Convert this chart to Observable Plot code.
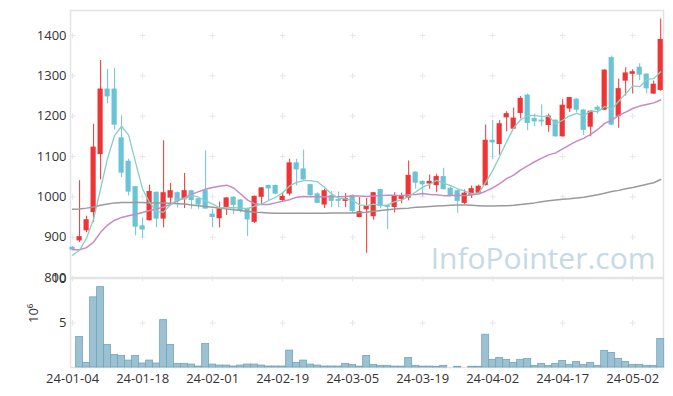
<!DOCTYPE html>
<html><head><meta charset="utf-8">
<script src="https://cdn.jsdelivr.net/npm/d3@7"></script>
<script src="https://cdn.jsdelivr.net/npm/@observablehq/plot@0.6"></script>
<style>
body{margin:0;background:#fff;}
#chart{width:673px;}
#chart svg{display:block;overflow:visible;background:transparent;}
</style></head><body><div id="chart"></div>
<script>
const dates = ["24-01-04","24-01-05","24-01-08","24-01-09","24-01-10","24-01-11","24-01-12","24-01-15","24-01-16","24-01-17",
"24-01-18","24-01-19","24-01-22","24-01-23","24-01-24","24-01-25","24-01-26","24-01-29","24-01-30","24-01-31",
"24-02-01","24-02-02","24-02-05","24-02-06","24-02-07","24-02-08","24-02-13","24-02-14","24-02-15","24-02-16",
"24-02-19","24-02-20","24-02-21","24-02-22","24-02-23","24-02-26","24-02-27","24-02-28","24-02-29","24-03-04",
"24-03-05","24-03-06","24-03-07","24-03-08","24-03-11","24-03-12","24-03-13","24-03-14","24-03-15","24-03-18",
"24-03-19","24-03-20","24-03-21","24-03-22","24-03-25","24-03-26","24-03-27","24-03-28","24-03-29","24-04-01",
"24-04-02","24-04-03","24-04-04","24-04-05","24-04-08","24-04-09","24-04-11","24-04-12","24-04-15","24-04-16",
"24-04-17","24-04-18","24-04-19","24-04-22","24-04-23","24-04-24","24-04-25","24-04-26","24-04-29","24-04-30",
"24-05-02","24-05-03","24-05-07","24-05-08","24-05-09"];
const open = [874,892,917,962,1106,1266,1266,1145,1087,1024,927,942,1010,946,998,1009,994,1014,994,1014,
956,947,975,998,991,970,938,1000,1027,1027,992,1008,1083,1068,1029,1006,981,1002,992,990,
1002,950,969,952,1017,977,975,995,998,1060,1037,1033,1029,1049,1020,1014,985,1004,1010,1029,
1139,1131,1197,1169,1208,1251,1193,1189,1178,1189,1150,1219,1241,1214,1174,1221,1216,1344,1200,1288,
1305,1320,1303,1256,1265];
const high = [876,1040,952,1180,1338,1316,1318,1201,1093,1025,948,1029,1012,1139,1033,1012,1058,1016,996,1114,
969,987,998,1000,993,972,1002,1023,1029,1029,1010,1093,1093,1116,1031,1010,1019,1013,1012,1008,
1004,998,996,1011,1019,979,1010,1009,1089,1062,1040,1054,1056,1071,1024,1017,1017,1027,1029,1178,
1189,1189,1211,1220,1249,1255,1205,1228,1205,1190,1241,1246,1243,1216,1213,1226,1315,1349,1292,1320,
1315,1330,1305,1287,1441];
const low = [868,887,911,937,1042,1231,1166,1048,1002,903,898,940,923,923,981,972,971,969,969,969,
923,923,954,956,960,902,934,980,991,1005,988,1002,1027,1041,998,983,971,973,973,973,
959,948,860,942,970,919,960,983,990,1019,1000,1019,1010,1017,1002,959,980,996,1006,1027,
1093,1103,1161,1167,1193,1164,1174,1174,1160,1148,1148,1209,1208,1152,1149,1205,1214,1176,1170,1250,
1255,1288,1255,1254,1262];
const close = [869,900,942,1122,1266,1249,1179,1060,1013,926,919,1012,946,1009,1014,992,1014,992,981,971,
950,969,996,980,967,944,1000,1021,1021,1008,1000,1083,1068,1043,1004,985,1014,990,990,995,
965,962,977,1009,977,975,1000,1000,1052,1035,1031,1037,1049,1019,1004,990,1008,1019,1025,1139,
1135,1180,1205,1194,1243,1183,1187,1187,1199,1150,1226,1245,1216,1166,1211,1216,1313,1179,1267,1306,
1309,1303,1269,1278,1389];
const volume = [0,3.42,0.52,7.88,9.03,2.53,1.41,1.30,0.78,1.30,0.45,0.78,0.45,5.32,2.53,0.41,0.41,0.33,0.11,2.64,
0.33,0.22,0.22,0.11,0.22,0.33,0.33,0.22,0.11,0.11,0.11,1.90,0.52,0.78,0.33,0.22,0.11,0.11,0.11,0.41,
0.30,0.10,1.30,0.30,0.19,0.19,0.10,0.10,1.08,0.19,0.10,0.10,0.08,0.19,0,0.08,0,0.08,0.08,3.68,
0.86,1.08,0.86,0.52,0.86,0.97,0.19,0.41,0.19,0.41,0.74,0.30,0.63,0.30,0.52,0.19,1.86,1.64,0.97,0.63,
0.30,0.30,0.19,0.19,3.20];
const ma5 = [855,868,898,945,1020,1096,1152,1175,1153,1085,1019,986,963,962,980,995,995,1004,999,990,
982,973,973,973,972,971,977,982,991,999,1010,1027,1036,1040,1040,1037,1023,1007,997,995,
991,980,978,982,978,980,988,992,1001,1012,1024,1031,1041,1034,1028,1020,1014,1008,1009,1036,
1065,1100,1137,1171,1191,1201,1202,1199,1200,1181,1190,1201,1207,1201,1213,1211,1224,1217,1237,1256,
1275,1273,1291,1293,1310];
const ma20 = [869,869,874,888,912,930,942,949,953,957,961,966,970,975,981,990,998,1006,1013,1019,
1023,1026,1029,1022,1007,992,983,981,981,985,989,993,999,1001,1000,1000,1000,1000,1000,1001,
1002,1002,1001,1002,1003,1004,1004,1003,1005,1006,1008,1006,1005,1003,1003,1004,1003,1005,1007,1014,
1022,1033,1045,1054,1067,1077,1087,1096,1104,1109,1119,1129,1138,1145,1155,1167,1182,1190,1202,1210,
1219,1225,1229,1233,1240];
const maLong = [969,970,972,975,979,982,985,986,986,986,986,985,985,985,984,983,982,980,978,976,
974,972,970,968,966,964,962,961,960,959,959,959,959,959,959,959,959,960,960,960,
960,961,962,964,966,968,970,971,972,974,975,976,977,978,979,980,980,979,978,977,
977,978,978,979,981,983,985,988,990,992,994,995,997,999,1002,1005,1009,1013,1016,1020,
1023,1027,1031,1035,1043];
const tickIdx = [0,10,20,30,40,50,60,70,80];
const priceTicks = [800,900,1000,1100,1200,1300,1400];
const volTicks = [5,10];

const rows = dates.map((d, i) => ({i, d, o: open[i], h: high[i], l: low[i], c: close[i], v: volume[i],
  ma5: ma5[i], ma20: ma20[i], maL: maLong[i], up: close[i] >= open[i]}));
const upRows = rows.filter(r => r.up), downRows = rows.filter(r => !r.up);
const UP = "#ee3434", DOWN = "#6bc3d8";
const xDomain = [-0.3, 84.4];
const font = "'Open Sans', 'Noto Sans', sans-serif";
const priceGrid = tickIdx.flatMap(x => [900,1000,1100,1200,1300,1400].map(y => ({x, y})));
const volGrid = tickIdx.flatMap(x => [5,10].map(y => ({x, y})));

function candles(data, color) {
  return [
    Plot.ruleX(data, {x: "i", y1: "l", y2: "h", stroke: color, strokeWidth: 1}),
    Plot.rect(data, {x1: d => d.i - 0.37, x2: d => d.i + 0.37,
      y1: d => Math.min(d.o, d.c), y2: d => Math.max(d.o, d.c), fill: color, insetTop: -0.5, insetBottom: -0.5})
  ];
}

const price = Plot.plot({
  width: 673, height: 278, marginTop: 10, marginBottom: 1, marginLeft: 70, marginRight: 10,
  style: {fontFamily: font, fontSize: "13px", color: "#333", background: "transparent", overflow: "visible"},
  x: {domain: xDomain, axis: null},
  y: {domain: [800, 1462], ticks: priceTicks, tickSize: 0, tickPadding: 4, label: null, tickFormat: d => String(d)},
  marks: [
    Plot.frame({stroke: "#e4e4e4", strokeWidth: 1.5}),
    Plot.dot(priceGrid, {x: "x", y: "y", symbol: "plus", r: 2, stroke: "#e6e6e6", strokeWidth: 1}),
    Plot.text(["InfoPointer.com"], {frameAnchor: "bottom-right", textAnchor: "end", lineAnchor: "bottom", dx: -8, dy: -9,
      fontSize: 30, fill: "#c6d9e4", fontFamily: font}),
    ...candles(upRows, UP),
    ...candles(downRows, DOWN),
    Plot.line(rows, {x: "i", y: "maL", stroke: "#9a9a9a", strokeWidth: 1.5}),
    Plot.line(rows, {x: "i", y: "ma20", stroke: "#c98ac2", strokeWidth: 1.5}),
    Plot.line(rows, {x: "i", y: "ma5", stroke: "#86d0c5", strokeWidth: 1.3})
  ]
});

const vol = Plot.plot({
  width: 673, height: 118, marginTop: 0, marginBottom: 29, marginLeft: 70, marginRight: 10,
  style: {fontFamily: font, fontSize: "13px", color: "#333", background: "transparent", overflow: "visible"},
  x: {domain: xDomain, ticks: tickIdx, tickFormat: i => dates[i], tickSize: 0, tickPadding: 6, label: null},
  y: {domain: [0, 10], ticks: volTicks, tickSize: 0, tickPadding: 4, label: null, tickFormat: d => String(d)},
  marks: [
    Plot.frame({stroke: "#e4e4e4", strokeWidth: 1.5}),
    Plot.dot(volGrid, {x: "x", y: "y", symbol: "plus", r: 2, stroke: "#e6e6e6", strokeWidth: 1}),
    Plot.rectY(rows.filter(d => d.v > 0), {x1: d => d.i - 0.5, x2: d => d.i + 0.5, y: "v",
      fill: "#9bc1d2", stroke: "#74a5bb", strokeWidth: 0.8}),
    Plot.text(["10⁶"], {frameAnchor: "left", dx: -37, rotate: -90, fontSize: 13, fill: "#333"})
  ]
});

const el = document.getElementById("chart");
el.append(price, vol);
</script></body></html>
